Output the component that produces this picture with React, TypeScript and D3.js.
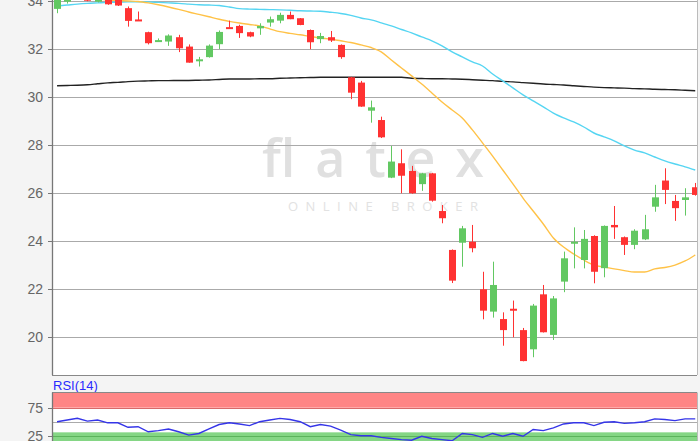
import React, { useEffect, useRef } from "react";
import * as d3 from "d3";

// daily candles (oldest first)
const opens = [33.68, 33.98, 34.15, 34.3, 33.98, 34.3, 34.2, 33.71, 33.24, 32.71, 32.35, 32.32, 32.5, 32.11, 31.52, 31.67, 32.21, 32.92, 32.97, 32.71, 32.87, 33.11, 33.19, 33.43, 33.29, 32.8, 32.42, 32.5, 32.18, 30.83, 30.61, 29.44, 29.05, 26.65, 27.25, 26.93, 26.38, 26.83, 25.26, 23.64, 23.94, 23.98, 22.0, 21.07, 20.76, 21.19, 20.3, 19.5, 21.79, 20.1, 22.32, 23.94, 23.22, 24.22, 22.88, 24.68, 24.17, 23.85, 24.08, 25.44, 26.53, 25.68, 25.72, 26.25];
const highs = [34.5, 34.5, 34.6, 34.4, 34.4, 34.35, 34.25, 33.78, 33.57, 32.73, 32.45, 32.62, 32.6, 32.2, 31.68, 32.2, 32.78, 33.19, 33.02, 32.73, 33.08, 33.36, 33.52, 33.57, 33.3, 32.82, 32.68, 32.76, 32.2, 30.85, 30.68, 29.86, 29.19, 27.97, 27.83, 27.14, 26.85, 26.85, 25.51, 23.66, 24.64, 24.68, 22.73, 23.15, 21.04, 21.53, 20.39, 21.39, 22.18, 21.72, 23.57, 24.58, 24.47, 24.25, 24.66, 25.47, 24.2, 24.5, 25.1, 26.35, 27.04, 25.93, 26.21, 26.43];
const lows = [33.5, 33.9, 34.1, 34.0, 33.95, 33.85, 33.8, 32.94, 33.2, 32.2, 32.3, 32.14, 31.88, 31.44, 31.28, 31.65, 32.01, 32.85, 32.47, 32.5, 32.6, 32.94, 33.08, 33.25, 33.0, 32.0, 32.25, 32.3, 31.6, 29.92, 29.6, 28.94, 28.3, 26.63, 26.0, 25.98, 26.1, 25.65, 24.75, 22.26, 22.94, 23.54, 20.75, 20.82, 19.65, 20.0, 19.0, 19.17, 20.2, 19.89, 21.88, 22.87, 22.87, 22.25, 22.5, 24.1, 23.43, 23.67, 24.05, 25.23, 25.55, 24.85, 25.07, 25.9];
const closes = [34.3, 34.4, 34.5, 34.02, 34.3, 33.87, 33.82, 33.18, 33.21, 32.25, 32.38, 32.57, 32.04, 31.44, 31.58, 32.15, 32.72, 32.87, 32.67, 32.53, 32.97, 33.25, 33.43, 33.25, 33.01, 32.29, 32.55, 32.36, 31.67, 30.19, 29.61, 29.58, 28.33, 27.32, 26.73, 26.0, 26.83, 25.69, 24.96, 22.36, 24.54, 23.71, 21.11, 22.18, 20.3, 21.15, 19.01, 21.32, 20.21, 21.62, 23.29, 23.98, 24.1, 22.73, 24.64, 24.58, 23.85, 24.44, 24.5, 25.83, 26.14, 25.38, 25.83, 25.93];

// moving averages
const maShort = [34.2, 34.18, 34.16, 34.14, 34.1, 34.05, 34.03, 34.01, 33.99, 33.93, 33.85, 33.76, 33.66, 33.55, 33.45, 33.35, 33.25, 33.16, 33.09, 33.03, 32.97, 32.85, 32.73, 32.66, 32.6, 32.53, 32.47, 32.42, 32.35, 32.28, 32.18, 32.07, 31.89, 31.55, 31.22, 30.89, 30.55, 30.18, 29.8, 29.47, 29.14, 28.64, 28.1, 27.55, 26.97, 26.39, 25.8, 25.26, 24.72, 24.14, 23.76, 23.47, 23.22, 23.01, 22.93, 22.85, 22.78, 22.72, 22.72, 22.85, 22.91, 23.01, 23.18, 23.43];
const maMid = [33.8, 33.84, 33.88, 33.91, 33.93, 33.95, 33.96, 33.97, 33.98, 33.97, 33.95, 33.93, 33.91, 33.88, 33.85, 33.84, 33.82, 33.76, 33.69, 33.67, 33.66, 33.65, 33.64, 33.62, 33.6, 33.59, 33.58, 33.54, 33.49, 33.41, 33.3, 33.22, 33.1, 32.97, 32.82, 32.68, 32.51, 32.35, 32.14, 31.89, 31.68, 31.47, 31.3, 30.97, 30.68, 30.39, 30.1, 29.85, 29.6, 29.34, 29.14, 28.97, 28.76, 28.51, 28.35, 28.18, 27.97, 27.8, 27.68, 27.51, 27.35, 27.22, 27.1, 26.97];
const maLong = [30.48, 30.49, 30.5, 30.52, 30.56, 30.6, 30.62, 30.65, 30.67, 30.68, 30.69, 30.69, 30.7, 30.7, 30.71, 30.72, 30.74, 30.76, 30.76, 30.76, 30.77, 30.77, 30.79, 30.8, 30.81, 30.82, 30.83, 30.83, 30.83, 30.83, 30.83, 30.83, 30.83, 30.83, 30.83, 30.79, 30.78, 30.77, 30.77, 30.76, 30.75, 30.73, 30.71, 30.69, 30.66, 30.64, 30.61, 30.58, 30.55, 30.53, 30.51, 30.48, 30.45, 30.42, 30.4, 30.39, 30.38, 30.36, 30.35, 30.33, 30.32, 30.31, 30.29, 30.27];

// RSI(14)
const rsi = [50, 53, 56, 51, 53, 48, 48, 40, 41, 32, 34, 37, 32, 26, 29, 37, 45, 48, 46, 43, 50, 53, 56, 54, 50, 41, 45, 42, 35, 27, 25, 25, 22, 20, 18, 17, 24, 20, 18, 16, 29, 27, 22, 29, 24, 29, 24, 36, 34, 39, 46, 48, 48, 43, 49, 50, 47, 48, 50, 55, 54, 52, 55, 55];

const priceTicks = [20, 22, 24, 26, 28, 30, 32, 34];
const rsiTicks = [25, 75];
const rsiMid = [50];
const rsiBands = [
  { from: 75, to: 100, fill: "#ff8585" },
  { from: 0, to: 31, fill: "#85d685" },
];

const UP = "#62c862";
const DOWN = "#ff3232";

export default function App() {
  const ref = useRef<SVGSVGElement>(null);

  useEffect(() => {
    const svg = d3.select(ref.current);
    svg.selectAll("*").remove();

    const left = 52;
    const right = 697;
    const mainBottom = 375;
    const rsiTop = 392.5;
    const rsiBottom = 441;

    const x = d3
      .scaleBand<number>()
      .domain(d3.range(closes.length))
      .range([left, 700.3])
      .paddingInner(0.3)
      .paddingOuter(0.15);
    const cx = (i: number) => (x(i) as number) + x.bandwidth() / 2;
    const y = d3.scaleLinear().domain([18.43, 34.05]).range([mainBottom, 0]);
    const ry = d3.scaleLinear().domain([0, 100]).range([449.7, 393.7]);

    svg.append("rect").attr("width", 700).attr("height", 441).attr("fill", "#f4f4f4");

    const defs = svg.append("defs");
    defs.append("clipPath").attr("id", "mainClip")
      .append("rect").attr("x", left).attr("y", -20).attr("width", right - left).attr("height", mainBottom + 20);
    defs.append("clipPath").attr("id", "rsiClip")
      .append("rect").attr("x", left).attr("y", rsiTop).attr("width", right - left).attr("height", rsiBottom - rsiTop);

    // main panel
    svg.append("rect").attr("x", left).attr("y", -5).attr("width", right - left)
      .attr("height", mainBottom + 5).attr("fill", "#fff");

    // watermark
    svg.append("text").attr("x", 262).attr("y", 177).attr("font-family", "Open Sans, sans-serif")
      .attr("font-size", 52).attr("font-weight", 600).attr("fill", "#e0e0e0").attr("textLength", 222)
      .attr("lengthAdjust", "spacing").text("flatex");
    svg.append("text").attr("x", 288).attr("y", 211).attr("font-family", "Open Sans, sans-serif")
      .attr("font-size", 13).attr("fill", "#e2e2e2").attr("textLength", 190)
      .attr("lengthAdjust", "spacing").text("ONLINE BROKER");

    const main = svg.append("g").attr("clip-path", "url(#mainClip)");
    main.selectAll("line.grid").data(priceTicks).enter().append("line")
      .attr("x1", left).attr("x2", right)
      .attr("y1", (d) => Math.round(y(d)) + 0.5).attr("y2", (d) => Math.round(y(d)) + 0.5)
      .attr("stroke", "#aaa").attr("stroke-width", 1.2);

    const maLine = (vals: number[]) =>
      d3.line<number>().x((_, i) => cx(i)).y((d) => y(d)).curve(d3.curveMonotoneX)(vals);
    main.append("path").attr("d", maLine(maLong)).attr("fill", "none").attr("stroke", "#222").attr("stroke-width", 1.4);
    main.append("path").attr("d", maLine(maMid)).attr("fill", "none").attr("stroke", "#55d5f2").attr("stroke-width", 1.4);
    main.append("path").attr("d", maLine(maShort)).attr("fill", "none").attr("stroke", "#ffc247").attr("stroke-width", 1.4);

    const candles = main.selectAll("g.c").data(d3.range(closes.length)).enter().append("g");
    candles.append("line")
      .attr("x1", (i) => Math.round(cx(i)) + 0.5).attr("x2", (i) => Math.round(cx(i)) + 0.5)
      .attr("y1", (i) => y(highs[i])).attr("y2", (i) => y(lows[i]))
      .attr("stroke", (i) => (closes[i] >= opens[i] ? UP : DOWN)).attr("stroke-width", 1);
    candles.append("rect")
      .attr("x", (i) => Math.round(cx(i)) + 0.5 - 3.5)
      .attr("width", 7)
      .attr("y", (i) => y(Math.max(opens[i], closes[i])))
      .attr("height", (i) => Math.max(2, Math.abs(y(opens[i]) - y(closes[i]))))
      .attr("fill", (i) => (closes[i] >= opens[i] ? UP : DOWN));

    // axes
    svg.append("line").attr("x1", left).attr("x2", right).attr("y1", mainBottom + 0.5).attr("y2", mainBottom + 0.5)
      .attr("stroke", "#888");
    svg.append("line").attr("x1", right + 0.5).attr("x2", right + 0.5).attr("y1", 0).attr("y2", mainBottom)
      .attr("stroke", "#bbb");
    svg.append("line").attr("x1", left + 0.5).attr("x2", left + 0.5).attr("y1", 0).attr("y2", mainBottom)
      .attr("stroke", "#777").attr("stroke-width", 1.3);
    const yAxis = svg.append("g");
    yAxis.selectAll("line").data(priceTicks).enter().append("line")
      .attr("x1", left - 4).attr("x2", left)
      .attr("y1", (d) => Math.round(y(d)) + 0.5).attr("y2", (d) => Math.round(y(d)) + 0.5)
      .attr("stroke", "#777");
    yAxis.selectAll("text").data(priceTicks).enter().append("text")
      .attr("x", 43).attr("y", (d) => y(d)).attr("dy", "0.36em").attr("text-anchor", "end")
      .attr("font-family", "Liberation Sans, Arial, sans-serif").attr("font-size", 14).attr("fill", "#666")
      .text((d) => d);

    // RSI panel
    svg.append("text").attr("x", 53).attr("y", 390).attr("font-family", "Liberation Sans, Arial, sans-serif")
      .attr("font-size", 13).attr("fill", "#2a2aff").text("RSI(14)");
    svg.append("rect").attr("x", left).attr("y", rsiTop).attr("width", right - left)
      .attr("height", rsiBottom - rsiTop).attr("fill", "#fff");
    const rsiG = svg.append("g").attr("clip-path", "url(#rsiClip)");
    const bandTop = (v: number) => (v >= 100 ? rsiTop : ry(v));
    rsiG.selectAll("rect.band").data(rsiBands).enter().append("rect")
      .attr("x", left).attr("width", right - left)
      .attr("y", (d) => bandTop(d.to)).attr("height", (d) => ry(d.from) - bandTop(d.to))
      .attr("fill", (d) => d.fill);
    rsiG.selectAll("line.t").data(rsiTicks).enter().append("line")
      .attr("x1", left).attr("x2", right)
      .attr("y1", (d) => Math.round(ry(d)) + 0.5).attr("y2", (d) => Math.round(ry(d)) + 0.5)
      .attr("stroke", (d) => (d > 50 ? "#d86a6a" : "#5cb45c")).attr("stroke-width", 1.2);
    rsiG.selectAll("line.m").data(rsiMid).enter().append("line")
      .attr("x1", left).attr("x2", right)
      .attr("y1", (d) => Math.round(ry(d)) + 0.5).attr("y2", (d) => Math.round(ry(d)) + 0.5)
      .attr("stroke", "#aaa").attr("stroke-width", 1.2);
    rsiG.append("path")
      .attr("d", d3.line<number>().x((_, i) => cx(i)).y((d) => ry(d))(rsi))
      .attr("fill", "none").attr("stroke", "#3535e8").attr("stroke-width", 1.4);

    svg.append("line").attr("x1", left).attr("x2", right).attr("y1", rsiTop).attr("y2", rsiTop)
      .attr("stroke", "#888").attr("stroke-width", 1.2);
    svg.append("line").attr("x1", left + 0.5).attr("x2", left + 0.5).attr("y1", rsiTop).attr("y2", rsiBottom)
      .attr("stroke", "#777").attr("stroke-width", 1.3);
    svg.append("line").attr("x1", right + 0.5).attr("x2", right + 0.5).attr("y1", rsiTop).attr("y2", rsiBottom)
      .attr("stroke", "#bbb");
    const rAxis = svg.append("g");
    rAxis.selectAll("line").data(rsiTicks).enter().append("line")
      .attr("x1", left - 4).attr("x2", left)
      .attr("y1", (d) => Math.round(ry(d)) + 0.5).attr("y2", (d) => Math.round(ry(d)) + 0.5)
      .attr("stroke", "#777");
    rAxis.selectAll("text").data(rsiTicks).enter().append("text")
      .attr("x", 43).attr("y", (d) => ry(d)).attr("dy", "0.36em").attr("text-anchor", "end")
      .attr("font-family", "Liberation Sans, Arial, sans-serif").attr("font-size", 14).attr("fill", "#666")
      .text((d) => d);
  }, []);

  return (
    <div style={{ position: "absolute", left: 0, top: 0 }}>
      <svg ref={ref} width={700} height={441} style={{ display: "block" }} />
    </div>
  );
}
